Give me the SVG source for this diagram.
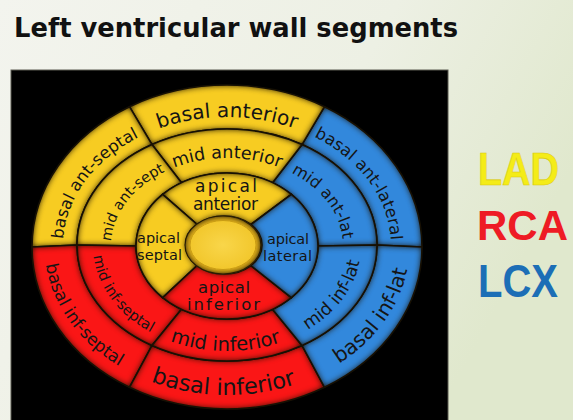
<svg xmlns="http://www.w3.org/2000/svg" width="573" height="420" viewBox="0 0 573 420">
<style>
.seg{stroke:#141208;stroke-width:1.6;filter:url(#bevel)}
.y{fill:#F7CC22}
.r{fill:#FA1616}
.b{fill:#3288DC}
.lbl{font-family:"DejaVu Sans","Liberation Sans",sans-serif;fill:#151515}
.key{font-family:"Liberation Sans","DejaVu Sans",sans-serif;font-weight:bold;font-size:46px}
</style>
<defs>
<linearGradient id="bg" x1="0" y1="0" x2="1" y2="0.4">
<stop offset="0" stop-color="#F3F4EE"/>
<stop offset="0.6" stop-color="#EDF0E4"/>
<stop offset="1" stop-color="#E0E8CD"/>
</linearGradient>
<filter id="bevel" x="-5%" y="-5%" width="110%" height="110%" color-interpolation-filters="sRGB">
<feGaussianBlur in="SourceAlpha" stdDeviation="3.5" result="blur"/>
<feComposite in="SourceAlpha" in2="blur" operator="arithmetic" k2="2.2" k3="-2.2" result="rim"/>
<feFlood flood-color="#1a0f00" flood-opacity="0.6" result="c"/>
<feComposite in="c" in2="rim" operator="in" result="shade"/>
<feMerge><feMergeNode in="SourceGraphic"/><feMergeNode in="shade"/></feMerge>
</filter>
<radialGradient id="hub" cx="0.5" cy="0.5" r="0.5">
<stop offset="0" stop-color="#F9D64A"/>
<stop offset="1" stop-color="#F2C72C"/>
</radialGradient>
<path id="tp-bas" d="M 63 246 A 164 129 0 0 1 145 134.28"/>
<path id="tp-ba" d="M 145 134.28 A 164 129 0 0 1 309 134.28"/>
<path id="tp-bal" d="M 309 134.28 A 164 129 0 0 1 391 246"/>
<path id="tp-bis" d="M 44.5 246 A 182.5 149 0 0 0 135.75 375.04"/>
<path id="tp-bi" d="M 135.75 375.04 A 182.5 149 0 0 0 318.25 375.04"/>
<path id="tp-bil" d="M 318.25 375.04 A 182.5 149 0 0 0 409.5 246"/>
<path id="tp-mas" d="M 111 246 A 116 88 0 0 1 169 169.79"/>
<path id="tp-ma" d="M 169 169.79 A 116 88 0 0 1 285 169.79"/>
<path id="tp-mal" d="M 285 169.79 A 116 88 0 0 1 343 246"/>
<path id="tp-mis" d="M 93 246 A 134 105 0 0 0 160 336.93"/>
<path id="tp-mi" d="M 160 336.93 A 134 105 0 0 0 294 336.93"/>
<path id="tp-mil" d="M 294 336.93 A 134 105 0 0 0 361 246"/>
</defs>

<rect width="573" height="420" fill="url(#bg)"/>
<rect x="11" y="70" width="437" height="352" fill="#000" stroke="#5a5a50" stroke-width="1"/>

<text x="14" y="37" font-family="DejaVu Sans, Liberation Sans, sans-serif" font-weight="bold" font-size="26" fill="#111" textLength="444" lengthAdjust="spacingAndGlyphs">Left ventricular wall segments</text>

<g id="connectors"></g>

<!-- basal ring -->
<g id="basal-ant-lateral">
<path class="seg b" d="M 422 247 A 195 162 0 0 0 324.5 106.7 L 302 144.54 A 150 116 0 0 1 377 245 Z"/>
<text class="lbl" font-size="16.5"><textPath href="#tp-bal" startOffset="50%" text-anchor="middle">basal ant-lateral</textPath></text>
</g>
<g id="basal-anterior">
<path class="seg y" d="M 324.5 106.7 A 195 162 0 0 0 129.5 106.7 L 152 144.54 A 150 116 0 0 1 302 144.54 Z"/>
<text class="lbl" font-size="20"><textPath href="#tp-ba" startOffset="50%" text-anchor="middle">basal anterior</textPath></text>
</g>
<g id="basal-ant-septal">
<path class="seg y" d="M 129.5 106.7 A 195 162 0 0 0 32 247 L 77 245 A 150 116 0 0 1 152 144.54 Z"/>
<text class="lbl" font-size="16.5"><textPath href="#tp-bas" startOffset="50%" text-anchor="middle">basal ant-septal</textPath></text>
</g>
<g id="basal-inf-septal">
<path class="seg r" d="M 32 247 A 195 162 0 0 0 129.5 387.3 L 152 345.46 A 150 116 0 0 1 77 245 Z"/>
<text class="lbl" font-size="17"><textPath href="#tp-bis" startOffset="50%" text-anchor="middle">basal inf-septal</textPath></text>
</g>
<g id="basal-inferior">
<path class="seg r" d="M 129.5 387.3 A 195 162 0 0 0 324.5 387.3 L 302 345.46 A 150 116 0 0 1 152 345.46 Z"/>
<text class="lbl" font-size="22.5"><textPath href="#tp-bi" startOffset="48%" text-anchor="middle">basal inferior</textPath></text>
</g>
<g id="basal-inf-lat">
<path class="seg b" d="M 324.5 387.3 A 195 162 0 0 0 422 247 L 377 245 A 150 116 0 0 1 302 345.46 Z"/>
<text class="lbl" font-size="20.5"><textPath href="#tp-bil" startOffset="50%" text-anchor="middle">basal inf-lat</textPath></text>
</g>

<!-- mid ring -->
<g id="mid-ant-lat">
<path class="seg b" d="M 377 245 A 150 116 0 0 0 302 144.54 L 272.5 182.78 A 91 73 0 0 1 318 246 Z"/>
<text class="lbl" font-size="16"><textPath href="#tp-mal" startOffset="50%" text-anchor="middle">mid ant-lat</textPath></text>
</g>
<g id="mid-anterior">
<path class="seg y" d="M 302 144.54 A 150 116 0 0 0 152 144.54 L 181.5 182.78 A 91 73 0 0 1 272.5 182.78 Z"/>
<text class="lbl" font-size="17.5"><textPath href="#tp-ma" startOffset="50%" text-anchor="middle">mid anterior</textPath></text>
</g>
<g id="mid-ant-sept">
<path class="seg y" d="M 152 144.54 A 150 116 0 0 0 77 245 L 136 246 A 91 73 0 0 1 181.5 182.78 Z"/>
<text class="lbl" font-size="14.5"><textPath href="#tp-mas" startOffset="50%" text-anchor="middle">mid ant-sept</textPath></text>
</g>
<g id="mid-inf-septal">
<path class="seg r" d="M 77 245 A 150 116 0 0 0 152 345.46 L 181.5 309.22 A 91 73 0 0 1 136 246 Z"/>
<text class="lbl" font-size="14.5"><textPath href="#tp-mis" startOffset="50%" text-anchor="middle">mid inf-septal</textPath></text>
</g>
<g id="mid-inferior">
<path class="seg r" d="M 152 345.46 A 150 116 0 0 0 302 345.46 L 272.5 309.22 A 91 73 0 0 1 181.5 309.22 Z"/>
<text class="lbl" font-size="19.5"><textPath href="#tp-mi" startOffset="49%" text-anchor="middle">mid inferior</textPath></text>
</g>
<g id="mid-inf-lat">
<path class="seg b" d="M 302 345.46 A 150 116 0 0 0 377 245 L 318 246 A 91 73 0 0 1 272.5 309.22 Z"/>
<text class="lbl" font-size="17.5"><textPath href="#tp-mil" startOffset="50%" text-anchor="middle">mid inf-lat</textPath></text>
</g>

<!-- apical ring -->
<g id="apical-anterior">
<path class="seg y" d="M 291.35 194.38 A 91 73 0 0 0 162.65 194.38 L 197.13 224.49 A 38 29 0 0 1 250.87 224.49 Z"/>
<text class="lbl" font-size="17" x="195" y="191.5" textLength="62">apical</text>
<text class="lbl" font-size="17" x="193" y="210" textLength="65">anterior</text>
</g>
<g id="apical-septal">
<path class="seg y" d="M 162.65 194.38 A 91 73 0 0 0 162.65 297.62 L 197.13 265.51 A 38 29 0 0 1 197.13 224.49 Z"/>
<text class="lbl" font-size="14.5" x="137" y="243" textLength="43">apical</text>
<text class="lbl" font-size="14.5" x="137" y="259.5" textLength="45">septal</text>
</g>
<g id="apical-inferior">
<path class="seg r" d="M 162.65 297.62 A 91 73 0 0 0 291.35 297.62 L 250.87 265.51 A 38 29 0 0 1 197.13 265.51 Z"/>
<text class="lbl" font-size="16.5" x="198" y="293" textLength="52">apical</text>
<text class="lbl" font-size="16.5" x="187" y="309.5" textLength="73">inferior</text>
</g>
<g id="apical-lateral">
<path class="seg b" d="M 291.35 297.62 A 91 73 0 0 0 291.35 194.38 L 250.87 224.49 A 38 29 0 0 1 250.87 265.51 Z"/>
<text class="lbl" font-size="14.5" x="267" y="244" textLength="42">apical</text>
<text class="lbl" font-size="14.5" x="263" y="260.5" textLength="49">lateral</text>
</g>

<g id="apex">
<ellipse cx="223" cy="245" rx="38" ry="29" fill="#E8B61C" stroke="#3a2e08" stroke-width="1.2" filter="url(#bevel)"/>
<ellipse cx="223" cy="245" rx="33" ry="24.5" fill="url(#hub)" stroke="#C99C14" stroke-width="1"/>
</g>

<g id="legend">
<text class="key" x="478" y="185" fill="#F4EC18" stroke="#D8C810" stroke-width="0.6" textLength="81" lengthAdjust="spacingAndGlyphs">LAD</text>
<text class="key" x="477" y="240" fill="#EE1B24" style="font-size:42px">RCA</text>
<text class="key" x="478" y="297" fill="#1C6EB6" textLength="80" lengthAdjust="spacingAndGlyphs">LCX</text>
</g>
</svg>
